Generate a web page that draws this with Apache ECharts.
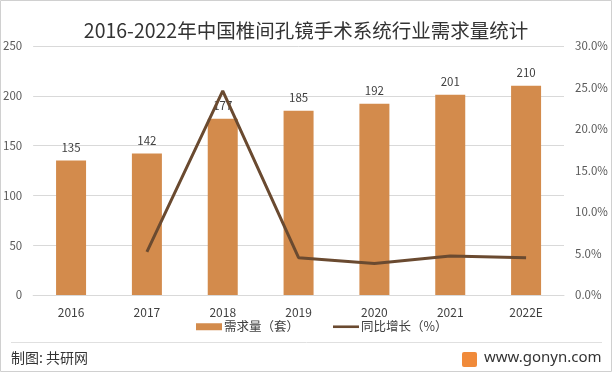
<!DOCTYPE html>
<html><head><meta charset="utf-8">
<script src="https://cdn.jsdelivr.net/npm/echarts@6/dist/echarts.min.js"></script>
<style>html,body{margin:0;padding:0;background:#fff}#c{width:612px;height:372px}</style>
</head><body><div id="c"></div>
<script>
var categories = ['2016','2017','2018','2019','2020','2021','2022E'];
var demand = [135,142,177,185,192,201,210];
var growth = [null,5.2,24.6,4.5,3.8,4.7,4.5];
var leftTicks = [0,50,100,150,200,250];
var rightTicks = [0,5,10,15,20,25,30];

var chart = echarts.init(document.getElementById('c'));
var font = '"Noto Sans CJK SC", "Noto Sans", sans-serif';
chart.setOption({
  animation:false,
  textStyle:{fontFamily:font},
  title:{text:'2016-2022年中国椎间孔镜手术系统行业需求量统计',left:'center',top:16,
    textStyle:{fontSize:19.5,fontWeight:'normal',color:'#333',fontFamily:font}},
  legend:{left:191,bottom:34,itemGap:34,itemWidth:26,itemHeight:7,
    textStyle:{fontSize:12.5,color:'#404040',padding:[0,0,0,-3]},
    data:[{name:'需求量（套）',icon:'rect'},{name:'同比增长（%）',icon:'path://M0,0H10V1H0Z'}]},
  grid:{left:33,right:48,top:46,bottom:77},
  xAxis:{type:'category',data:categories,axisTick:{show:false},
    axisLine:{lineStyle:{color:'#d9d9d9'}},
    axisLabel:{color:'#404040',fontSize:12,margin:11}},
  yAxis:[{type:'value',min:leftTicks[0],max:leftTicks[leftTicks.length-1],interval:50,
      axisLine:{show:false},axisTick:{show:false},
      splitLine:{lineStyle:{color:'#d9d9d9'}},
      axisLabel:{color:'#595959',fontSize:11.5,margin:11}},
    {type:'value',min:rightTicks[0],max:rightTicks[rightTicks.length-1],interval:5,
      axisLine:{show:false},axisTick:{show:false},splitLine:{show:false},
      axisLabel:{color:'#595959',fontSize:11.5,margin:11,formatter:function(v){return v.toFixed(1)+'%';}}}],
  series:[{name:'需求量（套）',type:'bar',data:demand,barWidth:30,
      itemStyle:{color:'#D38B4C'},
      label:{show:true,position:'top',color:'#404040',fontSize:11.5,distance:7}},
    {name:'同比增长（%）',type:'line',yAxisIndex:1,data:growth,symbol:'none',
      lineStyle:{color:'#6A4A30',width:3},itemStyle:{color:'#6A4A30'}}],
  graphic:[
    {type:'rect',shape:{x:0.5,y:0.5,width:611,height:371},style:{fill:null,stroke:'#d0d0d0',lineWidth:1}},
    {type:'line',shape:{x1:11,y1:342.5,x2:602,y2:342.5},style:{stroke:'#e0e0e0',lineWidth:1}},
    {type:'text',left:11,top:351,style:{text:'制图: 共研网',fontSize:14,fill:'#333',fontFamily:font}},
    {type:'rect',shape:{x:462,y:352,width:15,height:15,r:2},style:{fill:'#F08A3A'}},
    {type:'text',left:484,top:350,style:{text:'www.gonyn.com',fontSize:15,fill:'#333',fontFamily:'"Noto Sans", sans-serif'}}
  ]
});
</script></body></html>
